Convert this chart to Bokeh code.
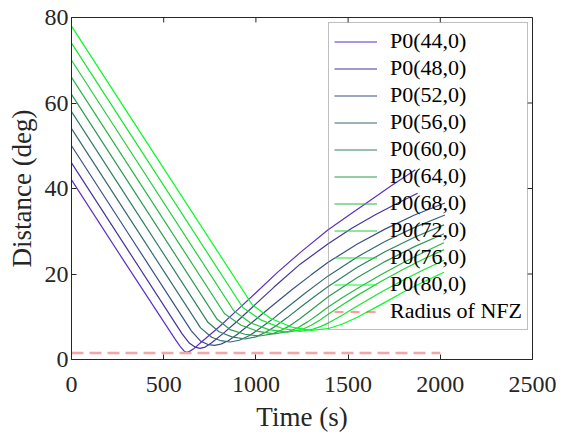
import math
from bokeh.plotting import figure
from bokeh.models import Legend, LegendItem, Range1d, FixedTicker
from bokeh.embed import file_html
from bokeh.resources import INLINE

labels = ["P0(44,0)", "P0(48,0)", "P0(52,0)", "P0(56,0)", "P0(60,0)",
          "P0(64,0)", "P0(68,0)", "P0(72,0)", "P0(76,0)", "P0(80,0)"]

t44 = [0, 300, 560, 590, 610, 625, 640, 665, 700, 800, 900, 1000, 1120, 1240, 1390, 1500, 1600, 1730, 1865]
d44 = [42, 22.0, 4.9, 3.0, 2.0, 1.7, 1.9, 2.6, 3.9, 7.6, 11.6, 15.6, 20.5, 25.0, 30.3, 33.6, 36.6, 40.5, 44.4]
t48 = [0, 300, 600, 640, 670, 697, 725, 760, 820, 900, 1000, 1100, 1240, 1390, 1520, 1650, 1770, 1877]
d48 = [46, 26.0, 6.0, 3.8, 2.9, 2.6, 2.9, 3.9, 6.0, 9.0, 13.0, 17.0, 22.3, 27.0, 30.7, 33.9, 36.6, 38.9]
t52 = [0, 300, 650, 700, 740, 775, 810, 850, 900, 1000, 1100, 1200, 1300, 1390, 1550, 1700, 1860, 2025]
d52 = [50, 30.0, 6.7, 4.3, 3.5, 3.3, 3.6, 4.4, 5.9, 9.4, 13.0, 16.5, 19.8, 22.7, 27.0, 30.5, 33.8, 36.6]
t56 = [0, 300, 700, 760, 810, 860, 910, 960, 1000, 1080, 1150, 1270, 1390, 1550, 1700, 1860, 2025]
d56 = [54, 34.0, 7.4, 5.2, 4.4, 4.1, 4.5, 5.5, 6.6, 9.1, 11.5, 15.6, 19.5, 24.0, 27.6, 30.9, 33.8]
t60 = [0, 300, 740, 800, 870, 940, 1000, 1050, 1100, 1170, 1250, 1320, 1390, 1550, 1700, 1860, 2020]
d60 = [58, 38.0, 8.7, 6.5, 5.3, 4.8, 5.3, 6.3, 7.6, 9.8, 12.5, 14.8, 17.0, 21.6, 25.2, 28.6, 31.5]
t64 = [0, 300, 790, 860, 940, 1020, 1090, 1140, 1180, 1240, 1300, 1390, 1550, 1700, 1860, 2020]
d64 = [62, 42.0, 9.4, 7.0, 5.9, 5.5, 6.0, 6.9, 7.8, 9.6, 11.6, 14.6, 19.2, 22.9, 26.4, 29.4]
t68 = [0, 300, 830, 920, 1010, 1100, 1180, 1230, 1280, 1330, 1390, 1470, 1550, 1680, 1800, 1910, 2020]
d68 = [66, 46.0, 10.7, 8.0, 6.6, 6.0, 6.6, 7.5, 8.8, 10.3, 12.2, 14.5, 16.6, 19.9, 22.7, 25.1, 27.3]
t72 = [0, 300, 880, 970, 1070, 1170, 1250, 1300, 1350, 1390, 1470, 1550, 1680, 1800, 1910, 2020]
d72 = [70, 50.0, 11.4, 8.6, 7.0, 6.4, 7.0, 8.0, 9.3, 10.5, 12.8, 15.0, 18.3, 21.1, 23.5, 25.7]
t76 = [0, 300, 930, 1030, 1140, 1240, 1310, 1350, 1390, 1470, 1550, 1680, 1800, 1910, 2020]
d76 = [74, 54.0, 12.1, 9.2, 7.3, 6.6, 7.1, 7.7, 8.5, 10.4, 12.5, 15.8, 18.6, 21.0, 23.2]
t80 = [0, 300, 980, 1080, 1200, 1300, 1390, 1470, 1550, 1680, 1800, 1910, 2020]
d80 = [78, 58.0, 12.8, 9.6, 7.5, 6.8, 7.2, 8.3, 9.9, 12.9, 15.8, 18.2, 20.4]

nfz_t = [0, 2000]
nfz_d = [1.5, 1.5]

x_ticks = [0, 500, 1000, 1500, 2000, 2500]
y_ticks = [0, 20, 40, 60, 80]

series_t = [t44, t48, t52, t56, t60, t64, t68, t72, t76, t80]
series_d = [d44, d48, d52, d56, d60, d64, d68, d72, d76, d80]
colors = ["#5b2fc9", "#43359f", "#38508a", "#366a72", "#2f8060",
          "#2e9a52", "#2bb545", "#22cf38", "#15e82c", "#00ff20"]

FONT = "Liberation Serif"
INK = "#262626"

p = figure(frame_width=461, frame_height=342, output_backend="svg", toolbar_location=None,
           x_range=Range1d(x_ticks[0], x_ticks[-1]), y_range=Range1d(y_ticks[0], y_ticks[-1]),
           min_border_left=71, min_border_right=35, min_border_top=17,
           min_border_bottom=77, title=None)
p.xgrid.visible = False
p.ygrid.visible = False
p.outline_line_color = INK
p.outline_line_width = 1
p.background_fill_color = "white"

xa = p.xaxis[0]
ya = p.yaxis[0]
xa.ticker = FixedTicker(ticks=x_ticks)
ya.ticker = FixedTicker(ticks=y_ticks)
xa.axis_label = "Time (s)"
ya.axis_label = "Distance (deg)"
for ax in (xa, ya):
    ax.major_tick_in = 5
    ax.major_tick_out = 0
    ax.minor_tick_line_color = None
    ax.axis_line_color = INK
    ax.major_tick_line_color = INK
    ax.major_label_text_font = FONT
    ax.major_label_text_font_size = "24px"
    ax.major_label_text_color = INK
    ax.axis_label_text_font = FONT
    ax.axis_label_text_font_size = "27px"
    ax.axis_label_text_font_style = "normal"
    ax.axis_label_text_color = INK
xa.major_label_standoff = 17
xa.axis_label_standoff = 7
ya.major_label_standoff = 3
ya.axis_label_standoff = 5

# mirrored inward ticks on the top and right edges of the box
p.ray(x=x_ticks, y=[y_ticks[-1]] * len(x_ticks), length=5, length_units="screen",
      angle=-math.pi / 2, line_color=INK, line_width=1)
p.ray(x=[x_ticks[-1]] * len(y_ticks), y=y_ticks, length=5, length_units="screen",
      angle=math.pi, line_color=INK, line_width=1)

items = []
for lab, tt, dd, c in zip(labels, series_t, series_d, colors):
    r = p.line(tt, dd, line_color=c, line_width=1.2)
    items.append(LegendItem(label=lab, renderers=[r]))

p.line(nfz_t, nfz_d, line_color="#f7a5a5", line_width=2.5, line_dash="12 6")
r_nfz = p.line([float("nan")], [float("nan")], line_color="#ff3b3b", line_width=1.2,
               line_dash="9 7")
items.append(LegendItem(label="Radius of NFZ", renderers=[r_nfz]))

legend = Legend(items=items, location=(257, 29))
legend.label_text_font = FONT
legend.label_text_font_size = "22px"
legend.label_text_color = "#000000"
legend.glyph_width = 43
legend.glyph_height = 25
legend.label_height = 25
legend.spacing = 1
legend.padding = 5
legend.margin = 0
legend.label_standoff = 13
legend.border_line_color = "#7f7f7f"
legend.border_line_width = 1.5
legend.background_fill_alpha = 0
p.add_layout(legend)

open("out.html", "w").write(file_html(p, INLINE))
